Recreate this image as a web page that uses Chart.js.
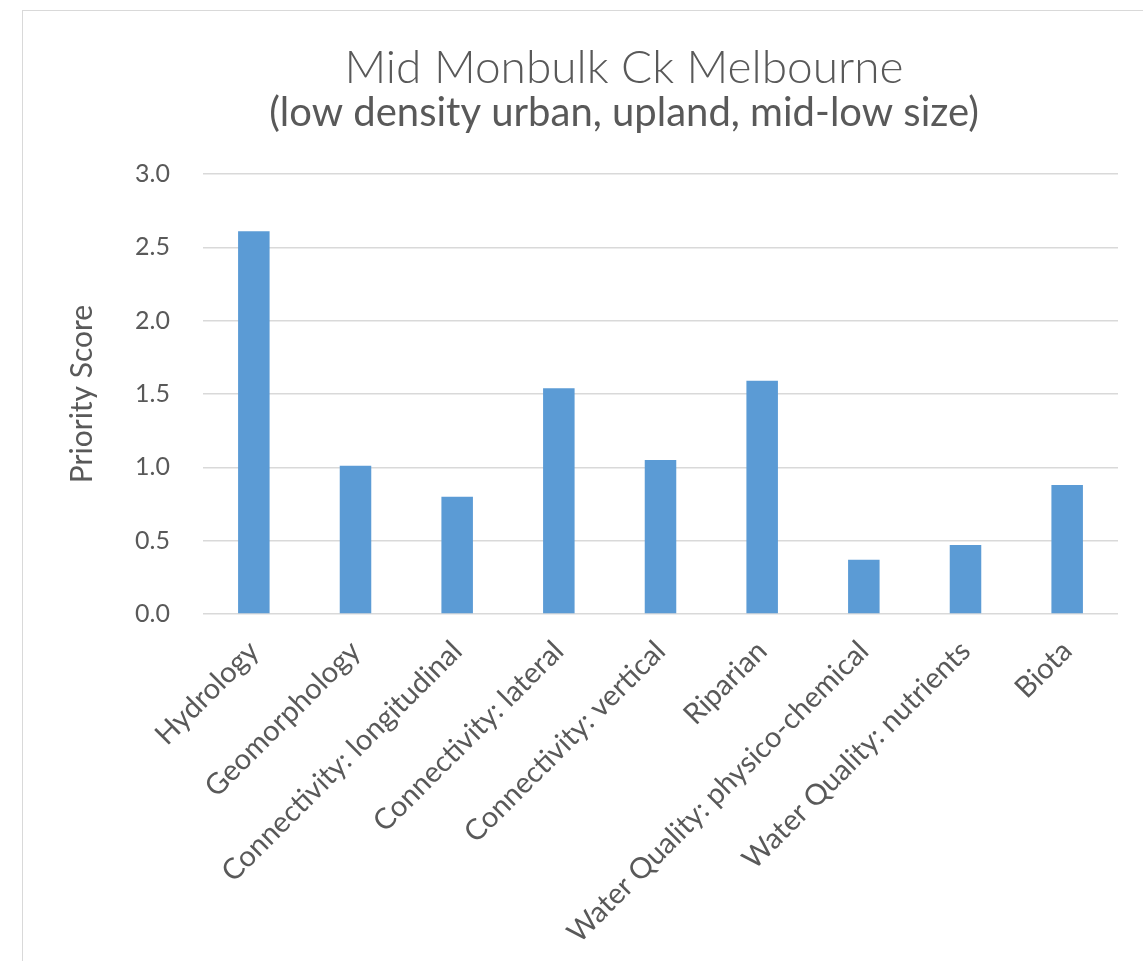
<!DOCTYPE html>
<html>
<head>
<meta charset="utf-8">
<script src="https://cdn.jsdelivr.net/npm/chart.js@4/dist/chart.umd.min.js"></script>
<style>
  html, body { margin: 0; padding: 0; background: #fff; overflow: hidden; }
  #wrap { position: relative; width: 1143px; height: 961px; }
  #frame { position: absolute; left: 22px; top: 10px; width: 1200px; height: 1000px;
           border: 1px solid #d9d9d9; pointer-events: none; }
  canvas { position: absolute; left: 0; top: 0; }
</style>
</head>
<body>
<div id="wrap">
  <canvas id="scoreChart" width="1143" height="961"></canvas>
  <div id="frame"></div>
</div>
<script>
// カテゴリとスコア
const categories = [
    'Hydrology',
    'Geomorphology',
    'Connectivity: longitudinal',
    'Connectivity: lateral',
    'Connectivity: vertical',
    'Riparian',
    'Water Quality: physico-chemical',
    'Water Quality: nutrients',
    'Biota'
];
const scores = [2.61, 1.01, 0.80, 1.54, 1.05, 1.59, 0.37, 0.47, 0.88];
const yTicks = [0, 0.5, 1.0, 1.5, 2.0, 2.5, 3.0];

const textColor = '#595959';
const fontFamily = 'Lato, "Noto Sans", sans-serif';

const ctx = document.getElementById('scoreChart').getContext('2d');

new Chart(ctx, {
    type: 'bar',
    data: {
        labels: categories,
        datasets: [{
            label: 'Priority Score',
            data: scores,
            backgroundColor: '#5b9bd5',
            borderWidth: 0,
            categoryPercentage: 1.0,
            barPercentage: 0.31
        }]
    },
    options: {
        responsive: false,
        animation: false,
        // 左の余白はタイトルを枠の中央に寄せるため
        layout: {
            padding: { top: 0, right: 25, bottom: 0, left: 130 }
        },
        plugins: {
            legend: { display: false },
            tooltip: { enabled: false },
            title: {
                display: true,
                text: 'Mid Monbulk Ck Melbourne',
                color: textColor,
                font: { family: fontFamily, size: 46, weight: '300', lineHeight: 1.0 },
                padding: { top: 45, bottom: 2 }
            },
            subtitle: {
                display: true,
                text: '(low density urban, upland, mid-low size)',
                color: textColor,
                font: { family: fontFamily, size: 40, weight: '400', lineHeight: 1.0 },
                padding: { top: 0, bottom: 41 }
            }
        },
        scales: {
            x: {
                grid: { display: false },
                border: { display: false },
                ticks: {
                    color: textColor,
                    font: { family: fontFamily, size: 29 },
                    autoSkip: false,
                    maxRotation: 45,
                    minRotation: 45,
                    padding: 12
                },
                afterFit: (scale) => { scale.height = 347; }
            },
            y: {
                min: 0,
                max: 3,
                afterBuildTicks: (scale) => {
                    scale.ticks = yTicks.map(v => ({ value: v }));
                },
                grid: {
                    color: '#d9d9d9',
                    lineWidth: 1.5,
                    drawTicks: false
                },
                border: { display: false },
                ticks: {
                    color: textColor,
                    font: { family: fontFamily, size: 25 },
                    padding: 33,
                    callback: (v) => Number(v).toFixed(1)
                },
                title: {
                    display: true,
                    text: 'Priority Score',
                    color: textColor,
                    font: { family: fontFamily, size: 30, lineHeight: 1.2 },
                    padding: { top: -66, bottom: 0 }
                },
                afterFit: (scale) => { scale.width = 73; }
            }
        }
    }
});
</script>
</body>
</html>
